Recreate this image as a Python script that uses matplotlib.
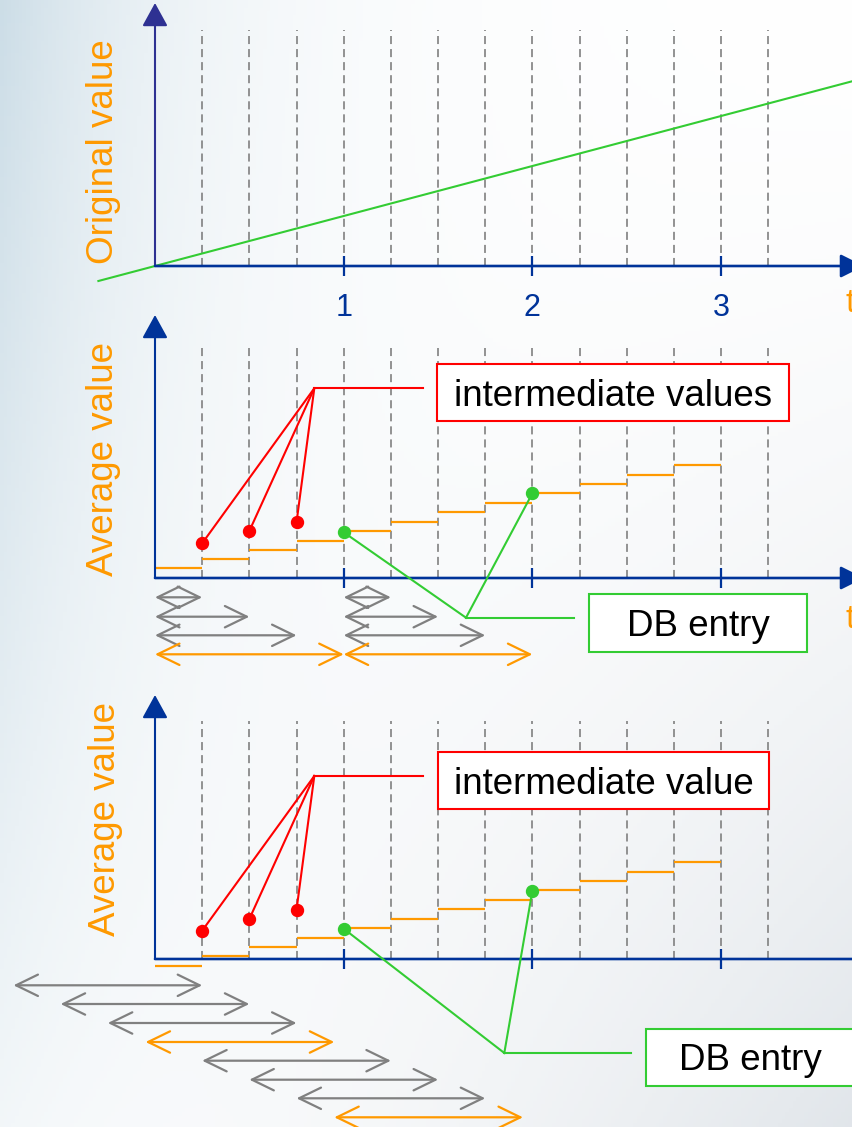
import numpy as np
import matplotlib.pyplot as plt
from matplotlib.patches import Rectangle
from matplotlib import transforms

plt.rcParams['font.family'] = ['Liberation Sans', 'DejaVu Sans']
plt.rcParams['lines.scale_dashes'] = False

# ---- data ----
tick_t = [1, 2, 3]
tick_labels = ['1', '2', '3']
sub_t = [0.25, 0.5, 0.75, 1.0, 1.25, 1.5, 1.75, 2.0, 2.25, 2.5, 2.75, 3.0, 3.25]
step_edges = [0, 0.25, 0.5, 0.75, 1.0, 1.25, 1.5, 1.75, 2.0, 2.25, 2.5, 2.75, 3.0]

# panel 1: original value (linear)
orig_t = [-0.3, 3.7]
orig_v = [-0.3, 3.7]

# panel 2: average from the start of each period
avg2 = [1.04, 2.0, 2.99, 3.99, 5.03, 6.02, 7.03, 7.99, 9.06, 10.02, 11.02, 12.05]
inter2_t = [0.25, 0.5, 0.75]
inter2_v = [3.71, 5.03, 5.96]
db2_t = [1, 2]
db2_v = [4.89, 9.06]
win2_start = [0, 0, 0, 0, 1, 1, 1, 1]
win2_end = [0.25, 0.5, 0.75, 1.0, 1.25, 1.5, 1.75, 2.0]
win2_db = [False, False, False, True, False, False, False, True]

# panel 3: moving average over one period
avg3 = [-0.75, 0.29, 1.25, 2.28, 3.28, 4.28, 5.32, 6.31, 7.38, 8.34, 9.34, 10.37]
inter3_t = [0.25, 0.5, 0.75]
inter3_v = [3.03, 4.28, 5.27]
db3_t = [1, 2]
db3_v = [3.24, 7.3]
win3_start = [-0.75, -0.5, -0.25, -0.05, 0.25, 0.5, 0.75, 0.95]
win3_end = [0.25, 0.5, 0.75, 0.95, 1.25, 1.5, 1.75, 1.95]
win3_db = [False, False, False, True, False, False, False, True]

# ---- colours ----
AXIS = '#003399'
AXIS1Y = '#2e3192'
ORANGE = '#ff9900'
GREEN = '#33cc33'
RED = '#ff0000'
GRAY = '#808080'
FS = 26.5
DASH = [(0, (5.8, 3.6))]

W, H = 852, 1127
T0_PX, T_PX = 155, 188.7

fig = plt.figure(figsize=(W / 100, H / 100), dpi=100)

# background gradient
bg = fig.add_axes([0, 0, 1, 1])
yy, xx = np.mgrid[0:1:300j, 0:1:230j]
blue = np.array([0.79, 0.86, 0.90])
grey = np.array([0.87, 0.89, 0.91])
a = 0.95 * np.exp(-xx / 0.2) * (1 - 0.75 * yy)
b = 0.9 * np.clip(xx * yy, 0, 1) ** 1.6
img = 1 - a[..., None] * (1 - blue) - b[..., None] * (1 - grey)
bg.imshow(np.clip(img, 0, 1), extent=[0, 1, 0, 1], aspect='auto')
bg.axis('off')

# overlay in pixel units, used for layout positions
lay = fig.add_axes([0, 0, 1, 1])
lay.set_xlim(0, W)
lay.set_ylim(H, 0)
lay.axis('off')


def make_panel(y0_px, v_px):
    ax = fig.add_axes([0, 0, 1, 1])
    ax.set_xlim(-T0_PX / T_PX, (W - T0_PX) / T_PX)
    ax.set_ylim((y0_px - H) / v_px, y0_px / v_px)
    ax.axis('off')
    return ax


def px_to_data(ax, x, y):
    return ax.transData.inverted().transform(lay.transData.transform((x, y)))


def axes_arrows(ax, tb, y0, top, ycolor, x_tip_px):
    ax.annotate('', xy=(0, top), xytext=(0, y0), xycoords=tb, textcoords=tb,
                arrowprops=dict(arrowstyle='-|>,head_length=14.4,head_width=7.9',
                                mutation_scale=1, lw=1.5, color=ycolor,
                                shrinkA=0, shrinkB=0))
    ax.annotate('', xy=((x_tip_px - T0_PX) / T_PX, y0), xytext=(0, y0),
                xycoords=tb, textcoords=tb,
                arrowprops=dict(arrowstyle='-|>,head_length=14.4,head_width=7.2',
                                mutation_scale=1, lw=1.9, color=AXIS,
                                shrinkA=0, shrinkB=0))
    ax.vlines(tick_t, y0 - 10, y0 + 10, transform=tb, colors=AXIS, lw=1.6, zorder=3)


# ---- panel 1 ----
ax1 = make_panel(266, 50)
tb1 = transforms.blended_transform_factory(ax1.transData, lay.transData)
ax1.vlines(sub_t, 266, 30, transform=tb1, colors=GRAY, lw=1.2, linestyles=DASH, zorder=1)
ax1.plot(orig_t, orig_v, color=GREEN, lw=1.5, zorder=2)
axes_arrows(ax1, tb1, 266, 3, AXIS1Y, W + 12)
for t, lab in zip(tick_t, tick_labels):
    ax1.text(t, 316, lab, transform=tb1, ha='center', va='baseline', fontsize=22, color=AXIS)
lay.text(113, 151.5, 'Original value', rotation=90, rotation_mode='anchor',
         ha='center', va='baseline', fontsize=FS, color=ORANGE)
lay.text(846, 312, 't', ha='left', va='baseline', fontsize=24, color=ORANGE)


def panel(y0, top, dash_top, x_tip, avg, inter_t, inter_v, db_t, db_v,
          starts, ends, is_db, rows, red_meet, red_end, green_meet, green_end):
    ax = make_panel(y0, 9.35)
    tb = transforms.blended_transform_factory(ax.transData, lay.transData)
    ax.vlines(sub_t, y0, dash_top, transform=tb, colors=GRAY, lw=1.2,
              linestyles=DASH, zorder=1)
    ax.hlines(avg, step_edges[:-1], step_edges[1:], colors=ORANGE, lw=1.6, zorder=2)
    axes_arrows(ax, tb, y0, top, AXIS, x_tip)

    # leader lines to the callouts
    rm = px_to_data(ax, *red_meet)
    re = px_to_data(ax, *red_end)
    for t, v in zip(inter_t, inter_v):
        ax.plot([t, rm[0]], [v, rm[1]], color=RED, lw=1.5, zorder=4)
    ax.plot([rm[0], re[0]], [rm[1], re[1]], color=RED, lw=1.5, zorder=4)
    gm = px_to_data(ax, *green_meet)
    ge = px_to_data(ax, *green_end)
    for t, v in zip(db_t, db_v):
        ax.plot([t, gm[0]], [v, gm[1]], color=GREEN, lw=1.5, zorder=4)
    ax.plot([gm[0], ge[0]], [gm[1], ge[1]], color=GREEN, lw=1.5, zorder=4)

    ax.plot(inter_t, inter_v, 'o', color=RED, ms=8.6, zorder=5)
    ax.plot(db_t, db_v, 'o', color=GREEN, ms=8.6, zorder=5)

    # averaging windows
    for s, e, d, y in zip(starts, ends, is_db, rows):
        ax.annotate('', xy=(e, y), xytext=(s, y), xycoords=tb, textcoords=tb,
                    arrowprops=dict(arrowstyle='<->,head_length=15.8,head_width=7.7',
                                    mutation_scale=1, lw=1.6,
                                    color=ORANGE if d else GRAY,
                                    shrinkA=0, shrinkB=0))
    return ax


ax2 = panel(578, 315, 345, W + 12, avg2, inter2_t, inter2_v, db2_t, db2_v,
            win2_start, win2_end, win2_db,
            [597.3, 616.7, 635.3, 654.3] * 2,
            (314.3, 388.3), (422.7, 388.3), (466, 617.7), (574, 617.7))
lay.text(113, 459, 'Average value', rotation=90, rotation_mode='anchor',
         ha='center', va='baseline', fontsize=FS, color=ORANGE)
lay.text(846, 628, 't', ha='left', va='baseline', fontsize=24, color=ORANGE)

ax3 = panel(959, 695, 721, W + 40, avg3, inter3_t, inter3_v, db3_t, db3_v,
            win3_start, win3_end, win3_db,
            [985.3, 1004, 1023, 1042, 1060.7, 1079.7, 1098.3, 1117.3],
            (314.3, 776), (422.7, 776), (504.3, 1053), (630.7, 1053))

top = fig.add_axes([0, 0, 1, 1])
top.set_xlim(0, W)
top.set_ylim(H, 0)
top.axis('off')
top.text(115, 819, 'Average value', rotation=90, rotation_mode='anchor',
         ha='center', va='baseline', fontsize=FS, color=ORANGE)

# callout boxes
boxes = [
    (437, 364, 789, 421, RED, 'intermediate values'),
    (589, 594, 807, 652, GREEN, 'DB entry'),
    (437.5, 752.3, 769.3, 809, RED, 'intermediate value'),
    (646, 1029.3, 854, 1085.7, GREEN, 'DB entry'),
]
for x0, y0, x1, y1, ec, txt in boxes:
    top.add_patch(Rectangle((x0, y0), x1 - x0, y1 - y0, facecolor='white',
                            edgecolor=ec, lw=1.5, zorder=5))
    top.text((x0 + x1) / 2, (y0 + y1) / 2 + 13, txt, ha='center', va='baseline',
             fontsize=FS, color='black', zorder=6)

fig.savefig('out.png', dpi=100)
